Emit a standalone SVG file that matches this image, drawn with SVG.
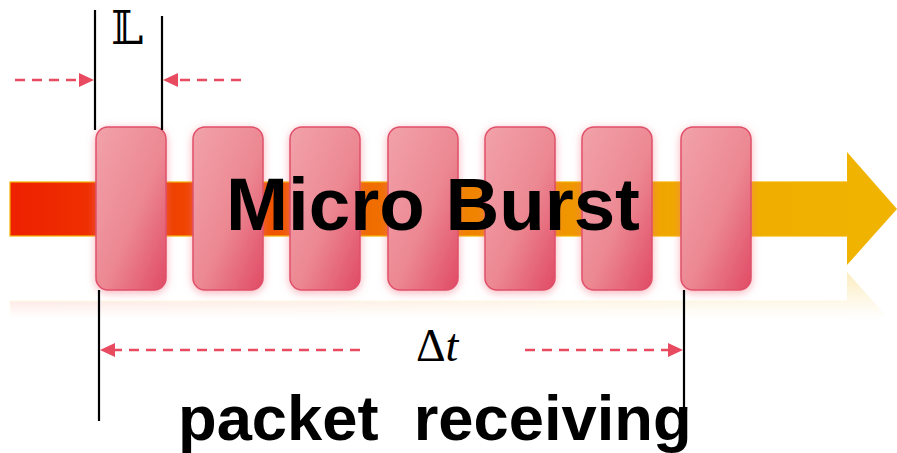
<svg xmlns="http://www.w3.org/2000/svg" width="897" height="453" viewBox="0 0 897 453">
  <defs>
    <linearGradient id="flow" x1="10" y1="0" x2="897" y2="0" gradientUnits="userSpaceOnUse">
      <stop offset="0" stop-color="#EE2000"/>
      <stop offset="0.3" stop-color="#F05600"/>
      <stop offset="0.55" stop-color="#F08A00"/>
      <stop offset="0.78" stop-color="#F0AC00"/>
      <stop offset="1" stop-color="#F0B400"/>
    </linearGradient>
    <linearGradient id="pkt" x1="0" y1="0" x2="1" y2="1">
      <stop offset="0" stop-color="#F2A2AA"/>
      <stop offset="0.55" stop-color="#EC8892"/>
      <stop offset="1" stop-color="#E04A64"/>
    </linearGradient>
    <linearGradient id="fade" x1="0" y1="268" x2="0" y2="318" gradientUnits="userSpaceOnUse">
      <stop offset="0" stop-color="#fff" stop-opacity="0.45"/>
      <stop offset="1" stop-color="#fff" stop-opacity="0"/>
    </linearGradient>
    <mask id="reflMask" maskUnits="userSpaceOnUse" x="0" y="260" width="897" height="70">
      <rect x="0" y="260" width="897" height="70" fill="url(#fade)"/>
    </mask>
    <filter id="glow" x="-30%" y="-20%" width="160%" height="140%">
      <feGaussianBlur in="SourceAlpha" stdDeviation="4"/>
      <feOffset dx="0" dy="2" result="b"/>
      <feFlood flood-color="#F07080" flood-opacity="0.55"/>
      <feComposite in2="b" operator="in"/>
      <feMerge>
        <feMergeNode/>
        <feMergeNode in="SourceGraphic"/>
      </feMerge>
    </filter>
    <path id="head" d="M0,-7 L15,0 L0,7 z" fill="#E84A5F"/>
    <g id="bigArrow">
      <rect x="10" y="182" width="840" height="54" fill="url(#flow)" stroke="#F4B400" stroke-width="1.2"/>
      <polygon points="847,152 897,209 847,265" fill="#F0B400"/>
    </g>
  </defs>
  <style>
    .pk { fill: url(#pkt); stroke: #E0506A; stroke-width: 1.5; }
    .guide { stroke: #000; stroke-width: 2.2; fill: none; }
    .dash { stroke: #E84A5F; stroke-width: 2.6; stroke-dasharray: 10 7; fill: none; }
    .title { font-family: "Liberation Sans", Arial, sans-serif; font-weight: bold; fill: #000; }
  </style>

  <!-- flow arrow and its soft reflection -->
  <g id="flow-arrow">
    <use href="#bigArrow"/>
    <g mask="url(#reflMask)">
      <use href="#bigArrow" transform="translate(0,537) scale(1,-1)" opacity="0.6"/>
    </g>
  </g>

  <!-- packets -->
  <g id="packets" filter="url(#glow)">
    <g id="p1"><rect class="pk" x="96" y="127" width="70" height="163" rx="12"/></g>
    <g id="p2"><rect class="pk" x="193" y="127" width="70" height="163" rx="12"/></g>
    <g id="p3"><rect class="pk" x="290" y="127" width="70" height="163" rx="12"/></g>
    <g id="p4"><rect class="pk" x="388" y="127" width="70" height="163" rx="12"/></g>
    <g id="p5"><rect class="pk" x="485" y="127" width="70" height="163" rx="12"/></g>
    <g id="p6"><rect class="pk" x="582" y="127" width="70" height="163" rx="12"/></g>
    <g id="p7"><rect class="pk" x="681" y="127" width="70" height="163" rx="12"/></g>
  </g>

  <text class="title" x="226" y="230" font-size="74.5">Micro Burst</text>

  <!-- measurement guides -->
  <g id="connectors">
    <line class="guide" x1="95" y1="10" x2="95" y2="130"/>
    <line class="guide" x1="162" y1="16" x2="162" y2="130"/>
    <line class="guide" x1="99" y1="290" x2="99" y2="421"/>
    <line class="guide" x1="684" y1="290" x2="684" y2="446"/>

    <line class="dash" x1="15" y1="80" x2="80" y2="80"/>
    <use href="#head" transform="translate(79,80)"/>
    <line class="dash" x1="241" y1="80" x2="178" y2="80"/>
    <use href="#head" transform="translate(178,80) scale(-1,1)"/>

    <line class="dash" x1="360" y1="350" x2="115" y2="350"/>
    <use href="#head" transform="translate(115,350) scale(-1,1)"/>
    <line class="dash" x1="525" y1="350" x2="668" y2="350"/>
    <use href="#head" transform="translate(668,350)"/>
  </g>

  <text x="111" y="44" font-family="DejaVu Serif, DejaVu Sans, serif" font-size="46" fill="#000">𝕃</text>
  <text x="416" y="361" font-family="Liberation Serif, DejaVu Serif, serif" font-size="46" fill="#000">Δ<tspan font-style="italic">t</tspan></text>

  <text class="title" x="178" y="440" font-size="63.3" xml:space="preserve">packet  receiving</text>
</svg>
